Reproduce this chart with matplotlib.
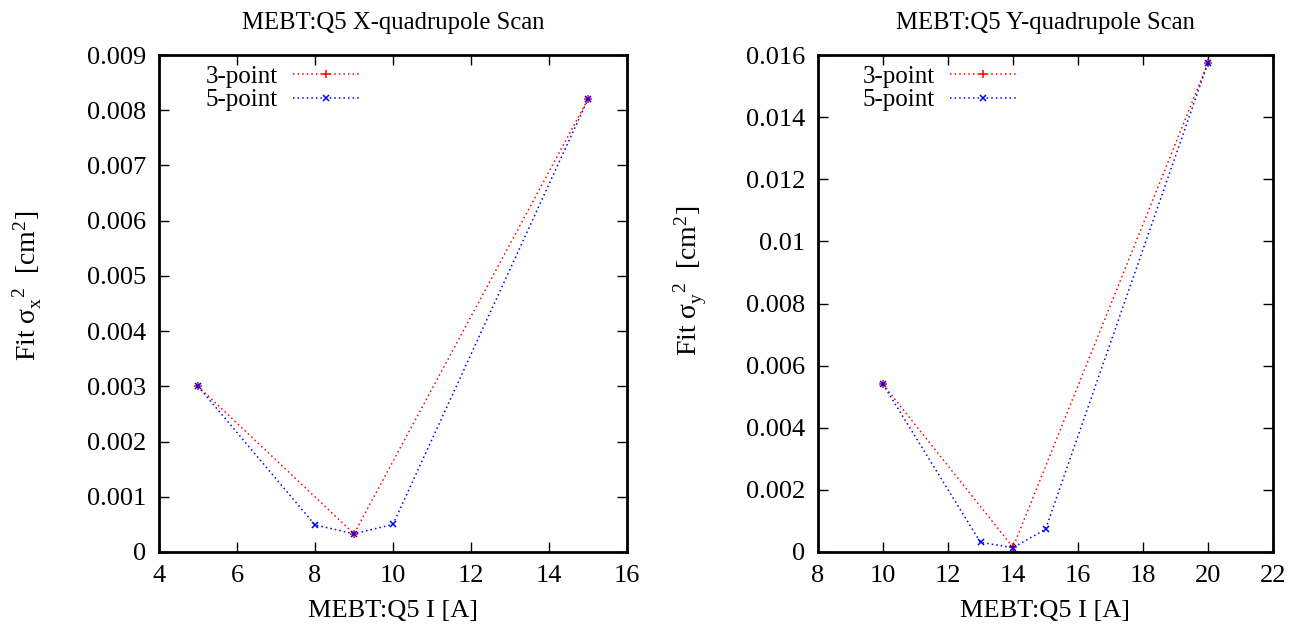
import matplotlib
matplotlib.use("Agg")
import matplotlib.pyplot as plt

plt.rcParams['font.family'] = ['Liberation Serif', 'DejaVu Serif']
plt.rcParams['mathtext.fontset'] = 'custom'
plt.rcParams['mathtext.rm'] = 'Liberation Serif'
plt.rcParams['mathtext.it'] = 'Liberation Serif'
plt.rcParams['mathtext.default'] = 'regular'

# Left: X scan
x3_x = [5, 9, 15]
y3_x = [0.0030, 0.00033, 0.0082]
x5_x = [5, 8, 9, 10, 15]
y5_x = [0.0030, 0.00049, 0.00033, 0.00050, 0.0082]

# Right: Y scan
x3_y = [10, 14, 20]
y3_y = [0.0054, 0.00015, 0.01575]
x5_y = [10, 13, 14, 15, 20]
y5_y = [0.0054, 0.00031, 0.00014, 0.00073, 0.01575]

left_xticks = [4, 6, 8, 10, 12, 14, 16]
left_yticks = [0, 0.001, 0.002, 0.003, 0.004, 0.005, 0.006, 0.007, 0.008, 0.009]
left_yticklabels = ['0', '0.001', '0.002', '0.003', '0.004', '0.005', '0.006', '0.007', '0.008', '0.009']
right_xticks = [8, 10, 12, 14, 16, 18, 20, 22]
right_yticks = [0, 0.002, 0.004, 0.006, 0.008, 0.01, 0.012, 0.014, 0.016]
right_yticklabels = ['0', '0.002', '0.004', '0.006', '0.008', '0.01', '0.012', '0.014', '0.016']

W, H = 1297, 632
fig = plt.figure(figsize=(W / 100, H / 100), dpi=100)

def make_ax(l, r, t, b):
    return fig.add_axes([l / W, 1 - b / H, (r - l) / W, (b - t) / H])

axL = make_ax(159, 627, 55, 552)
axR = make_ax(818, 1273, 55, 552)

def style(ax, x3, y3, x5, y5, xticks, yticks, yticklabels, xlim, ylim, title,
          ylabel, leg_x, ylab_pos):
    ax.plot(x3, y3, color='#ff0000', linestyle=(0, (1, 2)), linewidth=1.1,
            marker='+', markersize=6, markeredgewidth=1.1, label='3-point')
    ax.plot(x5, y5, color='#0000ff', linestyle=(0, (1, 2)), linewidth=1.1,
            marker='x', markersize=5, markeredgewidth=1.1, label='5-point')
    ax.set_xlim(*xlim)
    ax.set_ylim(*ylim)
    ax.set_xticks(xticks)
    ax.set_xticklabels([str(v) for v in xticks])
    ax.set_yticks(yticks)
    ax.set_yticklabels(yticklabels)
    ax.tick_params(direction='in', top=True, right=True, length=7, width=1,
                   labelsize=19, pad=9, colors='black')
    for s in ax.spines.values():
        s.set_linewidth(2)
    ax.set_title(title, fontsize=17.8, pad=19)
    ax.set_xlabel('MEBT:Q5 I [A]', fontsize=19, labelpad=10)
    ax.set_ylabel(ylabel, fontsize=20)
    ax.yaxis.set_label_coords(*ylab_pos)
    leg = ax.legend(loc='upper right', bbox_to_anchor=(leg_x / W, 1 - 65 / H),
                    bbox_transform=fig.transFigure, frameon=False,
                    markerfirst=False, fontsize=18, handlelength=2.7,
                    numpoints=1, labelspacing=0.05, handletextpad=0.6,
                    borderaxespad=0.0, borderpad=0.0)
    for t in leg.get_texts():
        t.set_ha('right')

style(axL, x3_x, y3_x, x5_x, y5_x, left_xticks, left_yticks, left_yticklabels,
      (4, 16), (0, 0.009), 'MEBT:Q5 X-quadrupole Scan',
      r'Fit $\sigma_x^{\ \ 2}$  [cm$^2$]', 360, (-0.245, 0.535))
style(axR, x3_y, y3_y, x5_y, y5_y, right_xticks, right_yticks, right_yticklabels,
      (8, 22), (0, 0.016), 'MEBT:Q5 Y-quadrupole Scan',
      r'Fit $\sigma_y^{\ \ 2}$  [cm$^2$]', 1017, (-0.24, 0.545))

fig.savefig('out.png', dpi=100)
